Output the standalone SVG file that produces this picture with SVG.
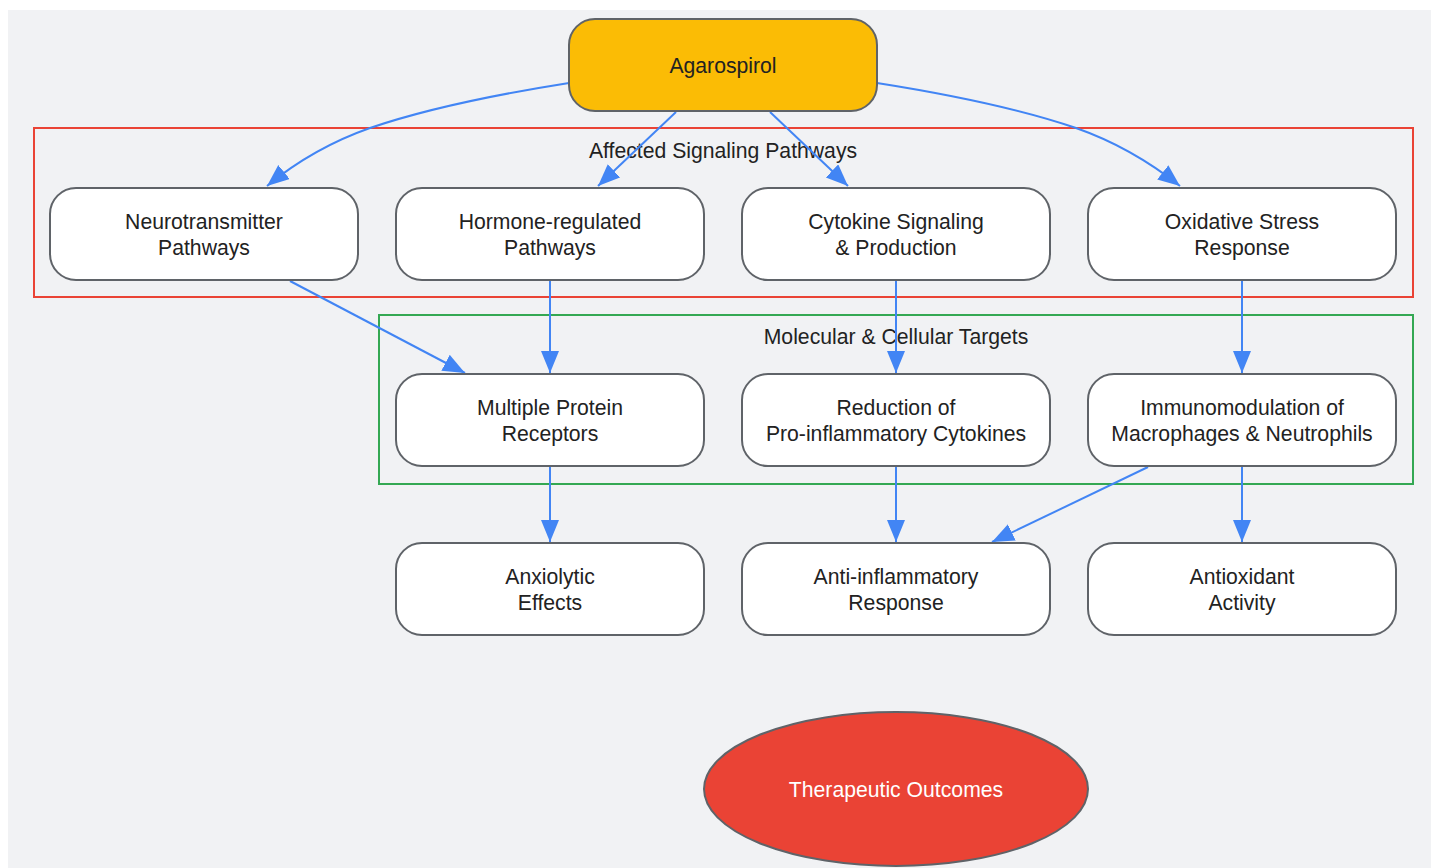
<svg xmlns="http://www.w3.org/2000/svg" width="1431" height="868" viewBox="0 0 1431 868">
<style>
.node{fill:#ffffff;stroke:#5f6368;stroke-width:2}
.t{font-family:"Liberation Sans",Arial,sans-serif;font-size:21.2px;fill:#222222;text-anchor:middle}
.e{fill:none;stroke:#4285f4;stroke-width:2}
.cl{fill:none;stroke-width:2}
</style>
<defs>
<marker id="ah" markerUnits="userSpaceOnUse" markerWidth="24" markerHeight="20" refX="22" refY="9" orient="auto">
<path d="M0,0 L22,9 L0,18 z" fill="#4285f4"/>
</marker>
</defs>
<rect x="0" y="0" width="1431" height="868" fill="#ffffff"/>
<rect x="8" y="10" width="1423" height="858" fill="#f1f2f4"/>
<g id="cluster-signaling">
<rect class="cl" x="34" y="128" width="1379" height="169" stroke="#ea4335"/>
<text class="t" x="723" y="158">Affected Signaling Pathways</text>
</g>
<g id="cluster-targets">
<rect class="cl" x="379" y="315" width="1034" height="169" stroke="#34a853"/>
<text class="t" x="896" y="344">Molecular &amp; Cellular Targets</text>
</g>
<g id="connectors">
<path class="e" marker-end="url(#ah)" d="M569,83 C480,97 420,111 370,128 C330,142 295,163 267,186"/>
<path class="e" marker-end="url(#ah)" d="M676,112 L598,186"/>
<path class="e" marker-end="url(#ah)" d="M770,112 L848,186"/>
<path class="e" marker-end="url(#ah)" d="M877,83 C966,97 1026,111 1076,128 C1116,142 1151,163 1180,186"/>
<path class="e" marker-end="url(#ah)" d="M290,281 L465,373"/>
<path class="e" marker-end="url(#ah)" d="M550,281 L550,373"/>
<path class="e" marker-end="url(#ah)" d="M896,281 L896,373"/>
<path class="e" marker-end="url(#ah)" d="M1242,281 L1242,373"/>
<path class="e" marker-end="url(#ah)" d="M550,467 L550,542"/>
<path class="e" marker-end="url(#ah)" d="M896,467 L896,542"/>
<path class="e" marker-end="url(#ah)" d="M1148,467 L992,542"/>
<path class="e" marker-end="url(#ah)" d="M1242,467 L1242,542"/>
</g>
<g id="agarospirol">
<rect x="569" y="19" width="308" height="92" rx="26" fill="#fbbc05" stroke="#5f6368" stroke-width="2"/>
<text class="t" x="723" y="73">Agarospirol</text>
</g>
<g id="neurotransmitter">
<rect class="node" x="50" y="188" width="308" height="92" rx="26"/>
<text class="t" x="204" y="229">Neurotransmitter</text>
<text class="t" x="204" y="255">Pathways</text>
</g>
<g id="hormone">
<rect class="node" x="396" y="188" width="308" height="92" rx="26"/>
<text class="t" x="550" y="229">Hormone-regulated</text>
<text class="t" x="550" y="255">Pathways</text>
</g>
<g id="cytokine">
<rect class="node" x="742" y="188" width="308" height="92" rx="26"/>
<text class="t" x="896" y="229">Cytokine Signaling</text>
<text class="t" x="896" y="255">&amp; Production</text>
</g>
<g id="oxidative">
<rect class="node" x="1088" y="188" width="308" height="92" rx="26"/>
<text class="t" x="1242" y="229">Oxidative Stress</text>
<text class="t" x="1242" y="255">Response</text>
</g>
<g id="receptors">
<rect class="node" x="396" y="374" width="308" height="92" rx="26"/>
<text class="t" x="550" y="415">Multiple Protein</text>
<text class="t" x="550" y="441">Receptors</text>
</g>
<g id="reduction">
<rect class="node" x="742" y="374" width="308" height="92" rx="26"/>
<text class="t" x="896" y="415">Reduction of</text>
<text class="t" x="896" y="441">Pro-inflammatory Cytokines</text>
</g>
<g id="immuno">
<rect class="node" x="1088" y="374" width="308" height="92" rx="26"/>
<text class="t" x="1242" y="415">Immunomodulation of</text>
<text class="t" x="1242" y="441">Macrophages &amp; Neutrophils</text>
</g>
<g id="anxiolytic">
<rect class="node" x="396" y="543" width="308" height="92" rx="26"/>
<text class="t" x="550" y="584">Anxiolytic</text>
<text class="t" x="550" y="610">Effects</text>
</g>
<g id="antiinflammatory">
<rect class="node" x="742" y="543" width="308" height="92" rx="26"/>
<text class="t" x="896" y="584">Anti-inflammatory</text>
<text class="t" x="896" y="610">Response</text>
</g>
<g id="antioxidant">
<rect class="node" x="1088" y="543" width="308" height="92" rx="26"/>
<text class="t" x="1242" y="584">Antioxidant</text>
<text class="t" x="1242" y="610">Activity</text>
</g>
<g id="outcomes">
<ellipse cx="896" cy="789" rx="192" ry="77" fill="#ea4335" stroke="#5f6368" stroke-width="2"/>
<text class="t" x="896" y="797" style="fill:#ffffff">Therapeutic Outcomes</text>
</g>
</svg>
